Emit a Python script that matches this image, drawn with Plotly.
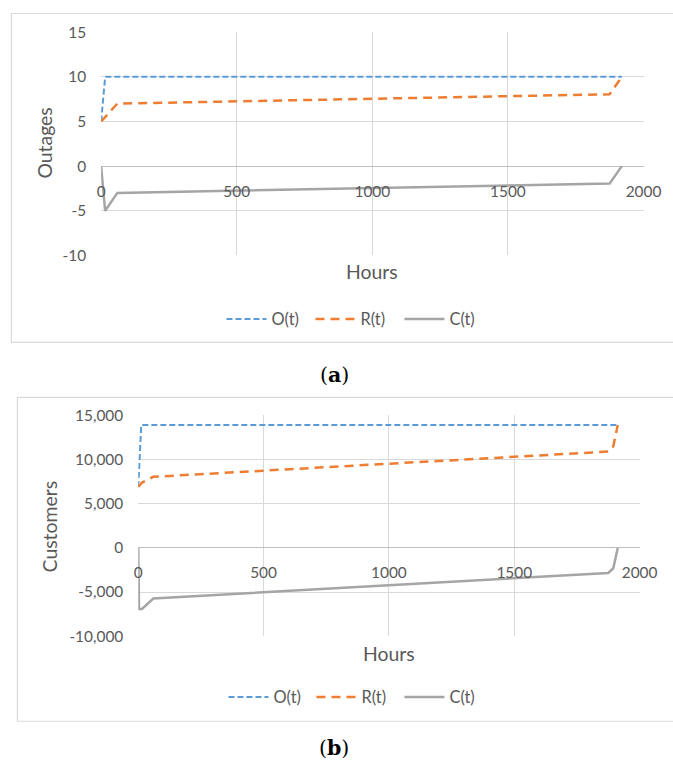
import plotly.graph_objects as go

# ---- data (a) Outages ----
hours_o_a = [0, 15, 1920]
o_a = [5, 10, 10]
hours_r_a = [0, 60, 1875, 1920]
r_a = [5, 7, 8.05, 10]
hours_c_a = [0, 15, 60, 1875, 1920]
c_a = [0, -5, -3, -1.95, 0]

# ---- data (b) Customers ----
hours_o_b = [0, 12, 1913]
o_b = [6900, 13900, 13900]
hours_r_b = [0, 15, 60, 1875, 1895, 1913]
r_b = [6900, 7400, 8050, 10900, 11500, 13900]
hours_c_b = [0, 3, 15, 60, 1875, 1895, 1913]
c_b = [0, -6900, -6900, -5730, -2830, -2300, 0]

x_ticks = [0, 500, 1000, 1500, 2000]
y_ticks_a = [-10, -5, 0, 5, 10, 15]
y_labels_a = ["-10", "-5", "0", "5", "10", "15"]
y_ticks_b = [-10000, -5000, 0, 5000, 10000, 15000]
y_labels_b = ["-10,000", "-5,000", "0", "5,000", "10,000", "15,000"]
series_names = ["O(t)", "R(t)", "C(t)"]

# mapping between page css px and picture px (measured in earlier renders)
S = 0.977
AX, AY = 2.5, 9.5
W = int(round((673 - AX) / S)) + 1
H = int(round((762 - AY) / S)) + 1
BLUE, ORANGE, GRAY = "#5B9BD5", "#ED7D31", "#A5A5A5"
TXT = "#595959"
FONT = "Lato"

def px_x(t):
    return ((t - AX) / S) / W

def px_y(t):
    return 1 - ((t - AY) / S) / H

def fs(v):
    return round(v / S, 1)

fig = go.Figure()

styles = [dict(color=BLUE, width=2, dash="6px,3px"),
          dict(color=ORANGE, width=2.5, dash="9px,6px"),
          dict(color=GRAY, width=2.5)]

for (xs, ys), st, nm in zip([(hours_o_a, o_a), (hours_r_a, r_a), (hours_c_a, c_a)], styles, series_names):
    fig.add_trace(go.Scatter(x=xs, y=ys, mode="lines", line=st, name=nm,
                             xaxis="x", yaxis="y", legend="legend"))
for (xs, ys), st, nm in zip([(hours_o_b, o_b), (hours_r_b, r_b), (hours_c_b, c_b)], styles, series_names):
    fig.add_trace(go.Scatter(x=xs, y=ys, mode="lines", line=st, name=nm,
                             xaxis="x2", yaxis="y2", legend="legend2"))

ya_dom = [px_y(255), px_y(31.7)]
yb_dom = [px_y(636), px_y(415)]
xa_dom = [px_x(100.5), px_x(648)]
xb_dom = [px_x(138), px_x(644)]

def zero_pos(dom, lo, hi):
    return dom[0] + (0 - lo) / (hi - lo) * (dom[1] - dom[0])

grid = "#D9D9D9"
tickfont = dict(family=FONT, size=fs(15), color=TXT)
common_x = dict(range=[0, 2000], tickvals=x_ticks, showgrid=True, gridcolor=grid,
                gridwidth=1, zeroline=False, showline=False, ticks="",
                tickfont=tickfont, ticklabelstandoff=14)

fig.update_layout(
    width=W, height=H, margin=dict(l=0, r=0, t=0, b=0),
    paper_bgcolor="white", plot_bgcolor="white",
    xaxis=dict(domain=xa_dom, anchor="free", position=zero_pos(ya_dom, -10, 15), **common_x),
    yaxis=dict(domain=ya_dom, anchor="x", range=[-10, 15], tickvals=y_ticks_a,
               ticktext=y_labels_a,
               showgrid=True, gridcolor=grid, zeroline=True, zerolinecolor="#BFBFBF",
               zerolinewidth=1.3, showline=False, ticks="",
               tickfont=tickfont, ticklabelstandoff=14),
    xaxis2=dict(domain=xb_dom, anchor="free", position=zero_pos(yb_dom, -10000, 15000), **common_x),
    yaxis2=dict(domain=yb_dom, anchor="x2", range=[-10000, 15000], tickvals=y_ticks_b,
                ticktext=y_labels_b,
                showgrid=True, gridcolor=grid, zeroline=True, zerolinecolor="#BFBFBF",
                zerolinewidth=1.3, showline=False, ticks="",
                tickfont=tickfont, ticklabelstandoff=14),
    legend=dict(orientation="h", x=px_x(222), y=px_y(319), xanchor="left", yanchor="middle",
                font=dict(family=FONT, size=fs(16), color=TXT), itemwidth=40,
                bgcolor="rgba(0,0,0,0)", entrywidth=34, entrywidthmode="pixels"),
    legend2=dict(orientation="h", x=px_x(224), y=px_y(697), xanchor="left", yanchor="middle",
                 font=dict(family=FONT, size=fs(16), color=TXT), itemwidth=40,
                 bgcolor="rgba(0,0,0,0)", entrywidth=33, entrywidthmode="pixels"),
    showlegend=True,
)

# boxes around each chart
fig.add_shape(type="rect", xref="paper", yref="paper", x0=px_x(10), x1=px_x(700),
              y0=px_y(342), y1=px_y(13), line=dict(color="#D9D9D9", width=1.2))
fig.add_shape(type="rect", xref="paper", yref="paper", x0=px_x(16), x1=px_x(700),
              y0=px_y(721), y1=px_y(397), line=dict(color="#D9D9D9", width=1.2))

ann = [
    dict(text="Outages", x=px_x(43), y=px_y(143), textangle=-90, size=19),
    dict(text="Hours", x=px_x(374), y=px_y(271), textangle=0, size=19),
    dict(text="Customers", x=px_x(48), y=px_y(526), textangle=-90, size=19),
    dict(text="Hours", x=px_x(391), y=px_y(653), textangle=0, size=19),
]
for a in ann:
    fig.add_annotation(text=a["text"], x=a["x"], y=a["y"], xref="paper", yref="paper",
                       showarrow=False, textangle=a["textangle"],
                       font=dict(family=FONT, size=fs(a["size"]), color=TXT),
                       xanchor="center", yanchor="middle")

for lab, yy in [("a", 375), ("b", 748)]:
    fig.add_annotation(text="(<b>%s</b>)" % lab, x=px_x(336), y=px_y(yy), xref="paper", yref="paper",
                       showarrow=False, font=dict(family="DejaVu Serif", size=fs(20), color="black"),
                       xanchor="center", yanchor="middle")

fig.write_html("out.html", config={"displayModeBar": False},
               post_script="document.documentElement.style.margin='0px';document.body.style.margin='0px';")
